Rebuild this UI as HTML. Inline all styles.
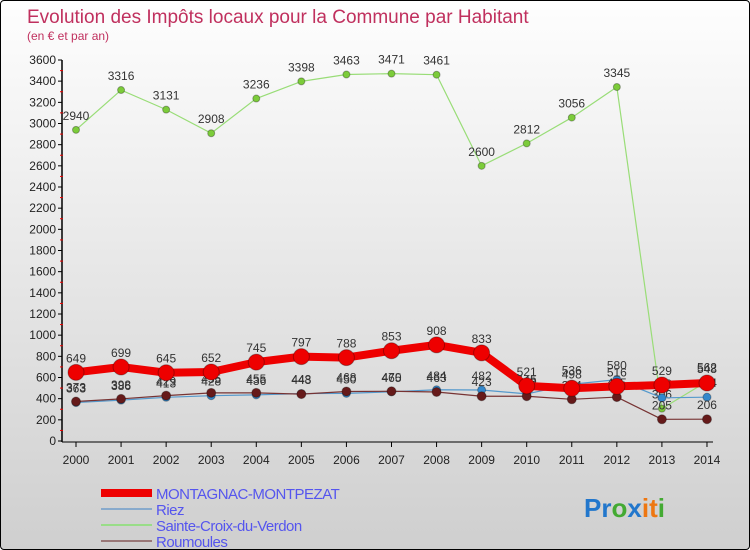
<!DOCTYPE html>
<html><head><meta charset="utf-8"><style>
body{margin:0;width:750px;height:550px;overflow:hidden;font-family:"Liberation Sans",sans-serif}
#wrap{position:relative;width:748px;height:548px;border:1px solid #000;border-radius:4px;background:linear-gradient(#fefefe,#cfcfcf);overflow:hidden}
</style></head><body>
<div id="wrap">
<svg id="chart" width="748" height="548"></svg>
</div>
<script>
const years=["2000","2001","2002","2003","2004","2005","2006","2007","2008","2009","2010","2011","2012","2013","2014"];
const montagnac=[649,699,645,652,745,797,788,853,908,833,521,498,516,529,548];
const riez=[363,386,413,428,436,448,450,465,484,482,445,536,580,408,414];
const sainteCroix=[2940,3316,3131,2908,3236,3398,3463,3471,3461,2600,2812,3056,3345,306,562];
const roumoules=[373,398,429,455,455,443,468,470,463,423,423,394,415,205,206];
const yTicks=[0,200,400,600,800,1000,1200,1400,1600,1800,2000,2200,2400,2600,2800,3000,3200,3400,3600];
const NS="http://www.w3.org/2000/svg";
const svg=document.getElementById('chart');
const x=i=>75+i*45.07;
const y=v=>440-v*(381/3600);
function mk(t,a,p){const e=document.createElementNS(NS,t);for(const k in a)e.setAttribute(k,a[k]);(p||svg).appendChild(e);return e;}
function txt(s,a){const e=mk('text',a);e.textContent=s;return e;}
let t=txt('Evolution des Impôts locaux pour la Commune par Habitant',{x:26,y:22,'font-size':19,fill:'#c0305e'});


t=txt('(en € et par an)',{x:26,y:39,'font-size':12,fill:'#c0305e'});


let ax=mk('line',{x1:61,y1:59,x2:61,y2:441,stroke:'#000','stroke-width':1.5});


ax=mk('line',{x1:61,y1:441,x2:712,y2:441,stroke:'#000','stroke-width':1});


yTicks.forEach((v,i)=>{
  mk('line',{x1:57,x2:61,y1:y(v),y2:y(v),stroke:'#000'});
  if(i<yTicks.length-1) mk('line',{x1:59,x2:62,y1:y(v+100),y2:y(v+100),stroke:'#e00'});
  const l=txt(String(v),{x:55,y:y(v)+4,'font-size':12,'text-anchor':'end',fill:'#222'});
  
  
});
years.forEach((yr,i)=>{
  mk('line',{x1:x(i),x2:x(i),y1:441,y2:446,stroke:'#000'});
  const l=txt(yr,{x:x(i),y:463,'font-size':12,'text-anchor':'middle',fill:'#222'});
  
  
});
function series(name,data,color,w,r,dot){
  const g=mk('g',{});
  
  
  mk('polyline',{points:data.map((v,i)=>x(i)+','+y(v)).join(' '),fill:'none',stroke:color,'stroke-width':w,'stroke-linejoin':'round'},g);
  data.forEach((v,i)=>{
    const c=mk('circle',{cx:x(i),cy:y(v),r:r,fill:dot,stroke:'rgba(0,0,0,0.3)'},g);
    
    
    const l=txt(String(v),{x:x(i),y:y(v)-10,'font-size':12,'text-anchor':'middle',fill:'#333'});
    
    
  });
}
series('sainte-croix',sainteCroix,'#99dd77',1.2,3.5,'#7ccc3a');
series('riez',riez,'#5599cc',1.2,4,'#3388cc');
series('roumoules',roumoules,'#773333',1.2,4.5,'#661a1a');
series('montagnac',montagnac,'#ee0000',8,8,'#ee0000');
const leg=[['MONTAGNAC-MONTPEZAT','#ee0000',8],['Riez','#88aacc',2],['Sainte-Croix-du-Verdon','#99dd88',2],['Roumoules','#997777',2]];
leg.forEach((l,i)=>{
  const g=mk('g',{});
  
  
  const yy=492+i*16;
  mk('line',{x1:100,x2:151,y1:yy,y2:yy,stroke:l[1],'stroke-width':l[2]},g);
  const tt=txt(l[0],{x:155,y:yy+6,'font-size':15,fill:'#5555ee','letter-spacing':'-0.5'});
  g.appendChild(tt);
});
const logo=txt('',{x:583,y:516,'font-size':26,'font-weight':'bold'});


[['P','#2277cc'],['r','#2277cc'],['o','#44aa33'],['x','#2277cc'],['i','#ee7711'],['t','#ee7711'],['i','#44aa33']].forEach(p=>{const s=mk('tspan',{fill:p[1]},logo);s.textContent=p[0];});
</script>
</body></html>
